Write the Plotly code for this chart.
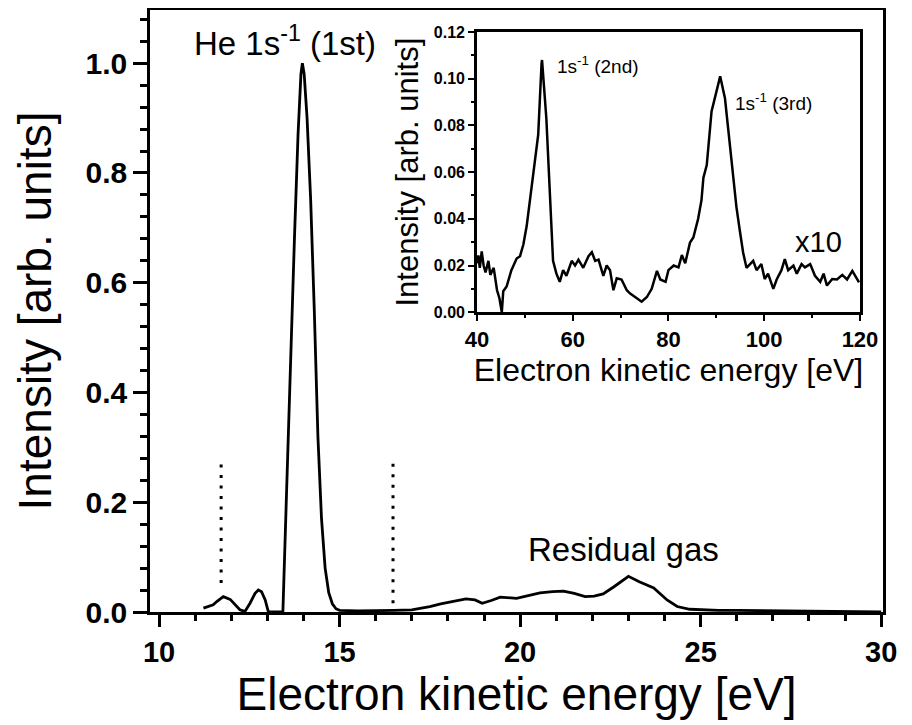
import plotly.graph_objects as go

# ---- main spectrum (He 1s^-1 first harmonic region) ----
main_energy = [11.23, 11.37, 11.50, 11.60, 11.78, 11.97, 12.11, 12.24, 12.38, 12.52,
               12.66, 12.75, 12.84, 12.94, 13.00, 13.03, 13.2, 13.43, 13.50, 13.57,
               13.65, 13.75, 13.85, 13.93, 13.97, 14.02, 14.10, 14.20, 14.30, 14.40,
               14.50, 14.60, 14.70, 14.80, 14.90, 15.00, 15.5, 16.0, 16.5, 17.0,
               17.2, 17.5, 17.8, 18.15, 18.5, 18.75, 18.95, 19.2, 19.45, 19.9,
               20.2, 20.55, 20.9, 21.2, 21.5, 21.8, 22.05, 22.3, 22.6, 22.8,
               23.0, 23.3, 23.7, 24.07, 24.35, 24.7, 25.0, 25.5, 26.0, 27.0,
               28.0, 29.0, 30.0]
main_intensity = [0.007, 0.010, 0.013, 0.019, 0.028, 0.023, 0.013, 0.004, 0.001, 0.016,
                  0.034, 0.040, 0.037, 0.022, 0.007, 0.0, 0.0, 0.0, 0.15, 0.31,
                  0.48, 0.68, 0.87, 0.98, 1.0, 0.98, 0.90, 0.75, 0.55, 0.32,
                  0.17, 0.08, 0.035, 0.015, 0.006, 0.003, 0.002, 0.002, 0.003, 0.004,
                  0.006, 0.010, 0.015, 0.020, 0.024, 0.022, 0.016, 0.021, 0.027, 0.025,
                  0.029, 0.035, 0.037, 0.038, 0.034, 0.028, 0.029, 0.033, 0.046, 0.056,
                  0.065, 0.055, 0.044, 0.022, 0.010, 0.005, 0.004, 0.003, 0.003, 0.002,
                  0.002, 0.001, 0.0]

# ---- inset spectrum (x10) ----
inset_energy = [40.0, 40.3, 40.6, 41.0, 41.4, 41.8, 42.4, 42.8, 43.5, 44.2,
                44.7, 45.2, 45.5, 46.2, 47.2, 48.3, 49.0, 49.7, 50.4, 51.1,
                52.1, 52.8, 53.5, 53.6, 54.5, 55.1, 55.5, 55.9, 56.6, 57.3,
                58.0, 58.7, 59.8, 60.5, 61.2, 62.2, 63.3, 64.0, 64.7, 65.4,
                66.4, 67.1, 67.8, 68.5, 69.2, 70.2, 71.3, 72.0, 73.4, 74.4,
                75.5, 76.5, 77.6, 78.3, 79.4, 80.0, 81.1, 82.1, 82.8, 83.5,
                84.5, 85.2, 86.2, 86.9, 87.3, 88.0, 89.0, 90.7, 90.8, 91.8,
                92.8, 94.2, 94.9, 95.6, 96.3, 97.0, 97.7, 98.4, 99.4, 100.1,
                100.8, 101.9, 102.6, 103.6, 104.3, 105.0, 106.1, 106.8, 107.8, 108.5,
                109.6, 110.6, 111.7, 112.4, 113.1, 114.2, 115.2, 116.3, 117.3, 118.4,
                119.4, 119.8]
inset_intensity = [0.021, 0.0243, 0.019, 0.026, 0.020, 0.017, 0.022, 0.016, 0.019, 0.0094,
                   0.006, 0.0, 0.009, 0.011, 0.018, 0.023, 0.024, 0.029, 0.037, 0.048,
                   0.065, 0.076, 0.1065, 0.108, 0.083, 0.055, 0.040, 0.022, 0.0165, 0.013,
                   0.018, 0.0156, 0.022, 0.020, 0.0225, 0.019, 0.024, 0.0257, 0.022, 0.0225,
                   0.0156, 0.020, 0.018, 0.0094, 0.0145, 0.014, 0.0094, 0.008, 0.006, 0.0045,
                   0.0065, 0.010, 0.0177, 0.014, 0.013, 0.018, 0.020, 0.0192, 0.0245, 0.021,
                   0.0298, 0.032, 0.040, 0.048, 0.0576, 0.063, 0.086, 0.0994, 0.101, 0.0916,
                   0.073, 0.045, 0.035, 0.0255, 0.019, 0.0206, 0.022, 0.018, 0.0206, 0.0142,
                   0.0165, 0.010, 0.014, 0.018, 0.0227, 0.018, 0.020, 0.0165, 0.0206, 0.0192,
                   0.0206, 0.0156, 0.013, 0.0165, 0.0114, 0.0142, 0.014, 0.016, 0.014, 0.0177,
                   0.014, 0.0128]

# dotted marker lines (energy, lower end, upper end)
marker_energy = [11.72, 16.48]
marker_low = [0.053, 0.016]
marker_high = [0.28, 0.28]

FONT = "Liberation Sans, Arial, sans-serif"

fig = go.Figure()
fig.add_trace(go.Scatter(x=main_energy, y=main_intensity, mode="lines",
                         line=dict(color="black", width=2.8), showlegend=False,
                         xaxis="x", yaxis="y"))
fig.add_trace(go.Scatter(x=inset_energy, y=inset_intensity, mode="lines",
                         line=dict(color="black", width=2.5), showlegend=False,
                         xaxis="x2", yaxis="y2"))

for e, lo, hi in zip(marker_energy, marker_low, marker_high):
    fig.add_shape(type="line", xref="x", yref="y", x0=e, x1=e, y0=lo, y1=hi,
                  line=dict(color="black", width=3, dash="3px,7.5px"))

axis_common = dict(showline=True, linecolor="black", mirror=True, showgrid=False,
                   zeroline=False, ticks="outside", tickcolor="black", automargin=False)

# page body has an 8px default margin -> compensate in the figure margins
fig.update_layout(
    width=912, height=725,
    paper_bgcolor="white", plot_bgcolor="white",
    margin=dict(l=142, r=37, t=2, b=121),
    font=dict(family=FONT, color="black"),
    xaxis=dict(**axis_common, range=[9.75, 30.05], tickvals=[10, 15, 20, 25, 30],
               linewidth=2.5, tickwidth=2.5, ticklen=12,
               minor=dict(dtick=1, tick0=10, ticklen=6, tickwidth=2.5, ticks="outside",
                          tickcolor="black"),
               tickfont=dict(size=29, weight="bold"),
               title=dict(text="Electron kinetic energy [eV]", font=dict(size=46),
                          standoff=0)),
    yaxis=dict(**axis_common, range=[0, 1.097], tickvals=[0, 0.2, 0.4, 0.6, 0.8, 1.0],
               tickformat=".1f", linewidth=2.5, tickwidth=2.5, ticklen=14,
               minor=dict(dtick=0.04, tick0=0, ticklen=7, tickwidth=2.5, ticks="outside",
                          tickcolor="black"),
               tickfont=dict(size=30, weight="bold"),
               title=dict(text="Intensity [arb. units]", font=dict(size=46),
                          standoff=20)),
    xaxis2=dict(**axis_common, domain=[0.446, 0.9686], anchor="y2", range=[40, 120],
                tickvals=[40, 60, 80, 100, 120], linewidth=2.5, tickwidth=2, ticklen=6,
                minor=dict(dtick=10, tick0=40, ticklen=3, tickwidth=2, ticks="outside",
                           tickcolor="black"),
                tickfont=dict(size=22, weight="bold"),
                title=dict(text="Electron kinetic energy [eV]", font=dict(size=32),
                           standoff=0)),
    yaxis2=dict(**axis_common, domain=[0.498, 0.9635], anchor="x2", range=[0, 0.12],
                tickvals=[0, 0.02, 0.04, 0.06, 0.08, 0.10, 0.12], tickformat=".2f",
                linewidth=2.5, tickwidth=2, ticklen=6,
                minor=dict(dtick=0.01, tick0=0, ticklen=3, tickwidth=2, ticks="outside",
                           tickcolor="black"),
                tickfont=dict(size=16, weight="bold"),
                title=dict(text="Intensity [arb. units]", font=dict(size=31),
                           standoff=6)),
)

fig.add_annotation(x=10.9, y=1.04, xref="x", yref="y", xanchor="left", yanchor="middle",
                   text="He 1s<sup>-1</sup> (1st)", showarrow=False, font=dict(size=33))
fig.add_annotation(x=22.85, y=0.113, xref="x", yref="y", xanchor="center", yanchor="middle",
                   text="Residual gas", showarrow=False, font=dict(size=33))
fig.add_annotation(x=56.3, y=0.106, xref="x2", yref="y2", xanchor="left", yanchor="middle",
                   text="1s<sup>-1</sup> (2nd)", showarrow=False, font=dict(size=19))
fig.add_annotation(x=93.4, y=0.090, xref="x2", yref="y2", xanchor="left", yanchor="middle",
                   text="1s<sup>-1</sup> (3rd)", showarrow=False, font=dict(size=19))
fig.add_annotation(x=111.4, y=0.030, xref="x2", yref="y2", xanchor="center", yanchor="middle",
                   text="x10", showarrow=False, font=dict(size=29))

fig.write_html("out.html")
